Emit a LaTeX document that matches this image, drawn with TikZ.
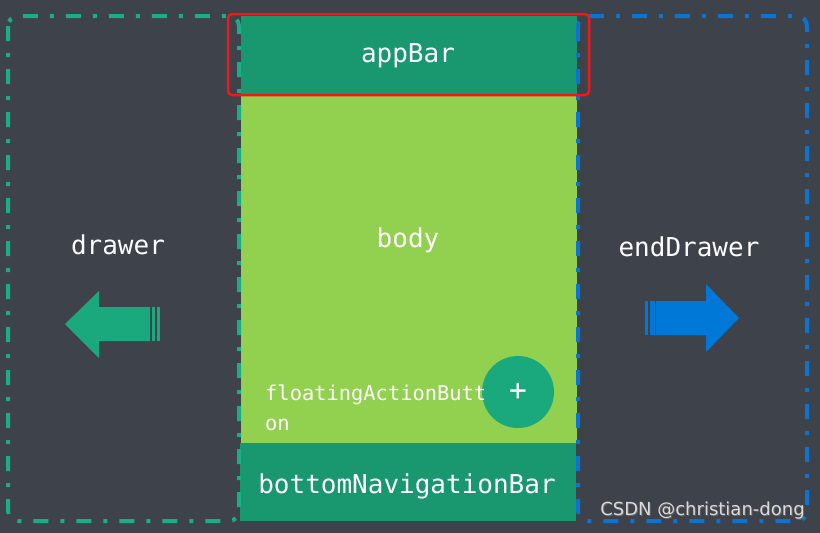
\documentclass[tikz,border=0pt]{standalone}
\usepackage{fontspec}
\setmonofont{DejaVu Sans Mono}
\setsansfont{DejaVu Sans}
\definecolor{bgc}{HTML}{3E424B}
\definecolor{darkg}{HTML}{199870}
\definecolor{lightg}{HTML}{92D14F}
\definecolor{fabg}{HTML}{1AA97C}
\definecolor{dashg}{HTML}{1AAE85}
\definecolor{dashb}{HTML}{0A74D0}
\definecolor{arrb}{HTML}{0078D7}
\definecolor{redc}{HTML}{F01818}
\tikzset{
  dashdot/.style={line width=4pt, rounded corners=10pt, dash pattern=on 15pt off 12pt on 4pt off 12pt},
  lbl/.style={text=white, font=\ttfamily\fontsize{26}{28}\selectfont, inner sep=0pt},
  fablbl/.style={text=white, font=\ttfamily\fontsize{20.4}{30}\selectfont, inner sep=0pt, align=left},
}
\begin{document}
\begin{tikzpicture}[x=1pt,y=-1pt]
\fill[bgc] (0,0) rectangle (820,533);
\useasboundingbox (0,0) rectangle (820,533);
% central column
\fill[lightg] (241,94) rectangle (577,443);
\fill[darkg] (241,16) rectangle (577,94);
\fill[darkg] (240,443) rectangle (576,521);
% side frames
\draw[dashdot, dashg] (8,16) rectangle (239,521);
\draw[dashdot, dashb] (578,16) rectangle (807,521);
% red frame
\draw[redc, line width=2.5pt, rounded corners=4pt] (228,14) rectangle (589,95);
% FAB
\node[circle, fill=fabg, minimum size=72pt, inner sep=0pt] (fab) at (518,392) {};
\node[lbl, font=\ttfamily\fontsize{30}{30}\selectfont] (plus) at (518,392) {+};
% labels
\node[lbl] (appbar) at (408,56) {appBar};
\node[lbl] (body) at (408,240) {body};
\node[lbl] (drawer) at (118,245) {drawer};
\node[lbl] (enddrawer) at (689,247) {endDrawer};
\node[lbl] (bnb) at (407,486) {bottomNavigationBar};
\node[fablbl, anchor=north west] (fabtxt) at (265,385) {floatingActionButt\\on};
% arrows
\fill[fabg] (65,324) -- (99,291) -- (99,307) -- (150,307) -- (150,341) -- (99,341) -- (99,358) -- cycle;
\fill[fabg] (151.5,307) rectangle (155,341);
\fill[fabg] (157,307) rectangle (160,341);
\fill[arrb] (739,318) -- (706,284) -- (706,301) -- (656,301) -- (656,335) -- (706,335) -- (706,352) -- cycle;
\fill[arrb] (645,301) rectangle (648,335);
\fill[arrb] (649.5,301) rectangle (654.5,335);
% watermark
\node[text=black!60, font=\sffamily\fontsize{18}{18}\selectfont, inner sep=0pt] at (703.5,512) {CSDN @christian-dong};
\node[text=white!85!black, font=\sffamily\fontsize{18}{18}\selectfont, inner sep=0pt] (wm) at (702.5,511) {CSDN @christian-dong};
\end{tikzpicture}
\end{document}
